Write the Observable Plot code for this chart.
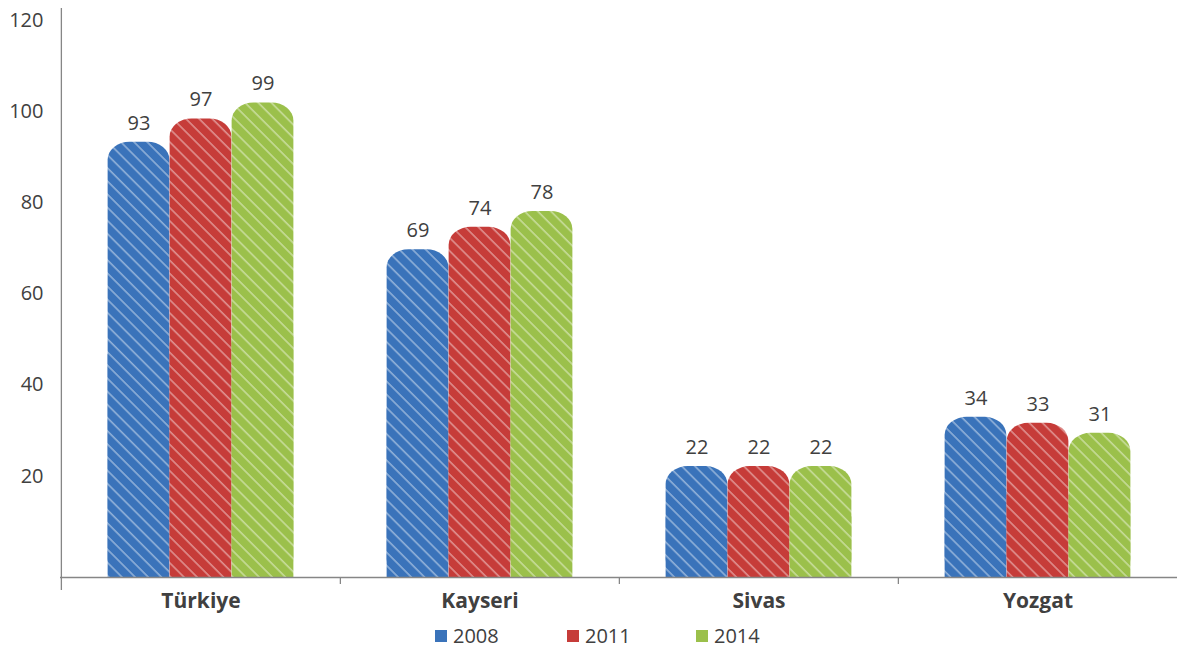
<!DOCTYPE html>
<html><head><meta charset="utf-8">
<script src="https://cdn.jsdelivr.net/npm/d3@7"></script>
<script src="https://cdn.jsdelivr.net/npm/@observablehq/plot@0.6"></script>
<style>
body{margin:0;background:#fff;font-family:"Open Sans",sans-serif;}
#wrap{position:relative;width:1177px;height:648px;overflow:hidden;}
.lg{position:absolute;top:624px;display:flex;align-items:center;font-size:20px;color:#404040;line-height:24px;height:24px;}
.lg span.sw{display:inline-block;width:12px;height:12px;margin-right:6px;}
</style></head><body><div id="wrap"></div>
<script>
const categories = ["Türkiye", "Kayseri", "Sivas", "Yozgat"];
const years = ["2008", "2011", "2014"];
const colors = ["#3A73BA", "#C63C39", "#9BC04B"];
// bar heights
const values2008 = [93.3, 69.7, 22.1, 32.9];
const values2011 = [98.4, 74.6, 22.1, 31.6];
const values2014 = [101.9, 78.1, 22.1, 29.4];
// data labels shown above the bars
const labels2008 = [93, 69, 22, 34];
const labels2011 = [97, 74, 22, 33];
const labels2014 = [99, 78, 22, 31];
const yTicks = [20, 40, 60, 80, 100, 120];

const seriesValues = [values2008, values2011, values2014];
const seriesLabels = [labels2008, labels2011, labels2014];
const data = years.flatMap((yr, i) => categories.map((c, j) => ({
  category: c, year: yr, value: seriesValues[i][j], label: seriesLabels[i][j]
})));

const W = 1177, H = 615;
const mL = 60, mR = 0, mT = 8, mB = 38;
const yMin = -2.25, yMax = 122.63;
const step = (W - mL - mR) / categories.length;
const barW = 62;
const inset = (step - barW) / 2;
const pxPerUnit = (H - mT - mB) / (yMax - yMin);
const axisColor = "#868686";

const defs = () => {
  const d = d3.create("svg:defs");
  years.forEach((yr, i) => {
    const s = 9.3;
    const p = d.append("pattern").attr("id", "hatch" + yr)
      .attr("patternUnits", "userSpaceOnUse")
      .attr("width", s).attr("height", s)
      .attr("patternTransform", "rotate(-45)");
    p.append("rect").attr("width", s).attr("height", s).attr("fill", colors[i]);
    p.append("line").attr("x1", 1).attr("x2", 1).attr("y1", 0).attr("y2", s)
      .attr("stroke", "#fff").attr("stroke-opacity", 0.7).attr("stroke-width", 1);
  });
  return d.node();
};

const seriesMarks = years.flatMap((yr, i) => {
  const rows = data.filter(d => d.year === yr);
  const dx = (i - 1) * barW;
  const fill = `url(#hatch${yr})`;
  return [
    Plot.barY(rows, {x: "category", y1: yMin, y2: "value", fill, insetLeft: inset, insetRight: inset, dx, rx: 22, ry: 18}),
    Plot.barY(rows, {x: "category", y1: yMin, y2: d => d.value / 2, fill, insetLeft: inset, insetRight: inset, dx}),
    Plot.text(rows, {x: "category", y: "value", text: d => String(d.label), dx, dy: -19, fontSize: 20, fill: "#404040", fontFamily: "Open Sans"})
  ];
});

const plot = Plot.plot({
  width: W, height: H,
  marginLeft: mL, marginRight: mR, marginTop: mT, marginBottom: mB,
  style: {fontFamily: "Open Sans", background: "#fff", color: "#404040", overflow: "visible"},
  x: {type: "band", domain: categories, padding: 0, axis: null, label: null},
  y: {domain: [yMin, yMax], axis: null, label: null},
  marks: [
    defs,
    ...seriesMarks,
    Plot.ruleY([yMin], {stroke: axisColor, strokeWidth: 1.3}),
    Plot.ruleX([categories[0]], {dx: -step / 2, y1: yMin - 13 / pxPerUnit, y2: yMax, stroke: axisColor, strokeWidth: 1.3}),
    Plot.ruleX(categories.slice(1), {dx: -step / 2, y1: yMin, y2: yMin - 7 / pxPerUnit, stroke: axisColor, strokeWidth: 1.3}),
    Plot.axisY(yTicks, {tickSize: 0, tickPadding: 17, fontSize: 20, fill: "#404040", label: null}),
    Plot.axisX({tickSize: 0, tickPadding: 16, fontSize: 21, fontWeight: "bold", fill: "#404040", label: null})
  ]
});

const wrap = document.getElementById("wrap");
wrap.appendChild(plot);
const legendX = [435, 567, 696];
years.forEach((yr, i) => {
  const el = document.createElement("div");
  el.className = "lg";
  el.style.left = legendX[i] + "px";
  el.innerHTML = `<span class="sw" style="background:${colors[i]}"></span><span>${yr}</span>`;
  wrap.appendChild(el);
});
</script>
</body></html>
